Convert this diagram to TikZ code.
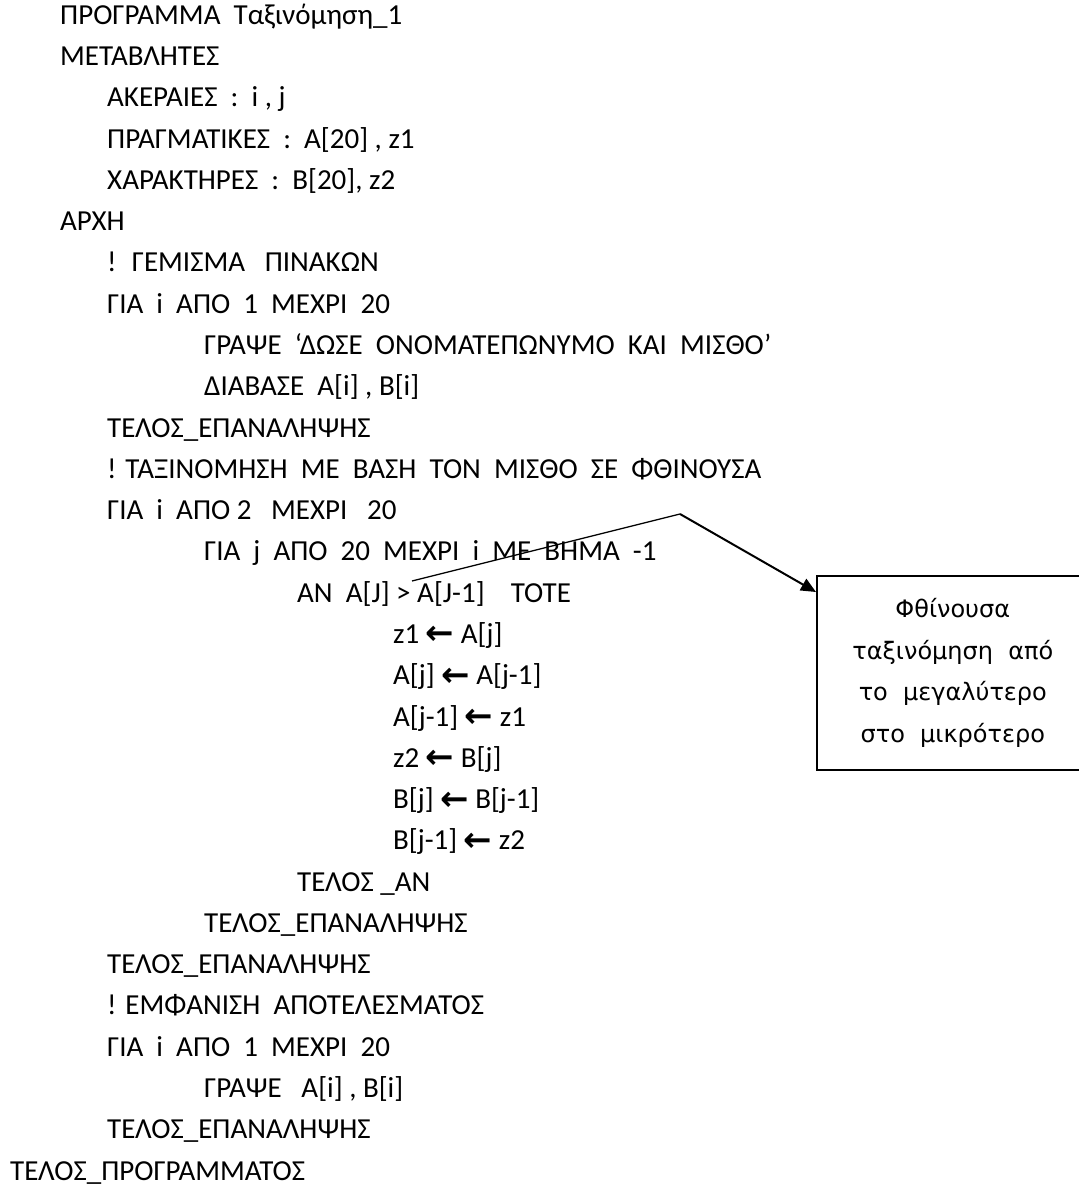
\documentclass[tikz,border=0pt]{standalone}
\usepackage{fontspec}
\usepackage{tikz}
\usetikzlibrary{arrows.meta}
\setmainfont{Carlito}
\newfontfamily\notefont{DejaVu Sans}
\newfontfamily\symfont{DejaVu Sans}
\newcommand{\assign}{\raisebox{-1.5pt}{\symfont\bfseries\fontsize{34}{36}\selectfont\char"2190}}

\begin{document}
\begin{tikzpicture}[x=1pt,y=-1pt,
        ln/.style={anchor=base west,inner sep=0pt,font=\fontsize{29}{34}\selectfont},
        notebox/.style={draw,line width=1.6pt,anchor=north west,minimum width=272pt,minimum height=194pt,
            align=center,font=\notefont\fontsize{24}{41.5}\selectfont}]
        \useasboundingbox (0,0) rectangle (1079,1187);
        % program text
        \node[ln] (prog) at (60,24.2) {ΠΡΟΓΡΑΜΜΑ~ Ταξινόμηση\_1};
        \node[ln] (vars) at (60,65.5) {ΜΕΤΑΒΛΗΤΕΣ};
        \node[ln] (ints) at (107,106.8) {ΑΚΕΡΑΙΕΣ~ :~ i , j};
        \node[ln] (reals) at (107,148) {ΠΡΑΓΜΑΤΙΚΕΣ~ :~ A[20] , z1};
        \node[ln] (chars) at (107,189.3) {ΧΑΡΑΚΤΗΡΕΣ~ :~ B[20], z2};
        \node[ln] (start) at (60,230.6) {ΑΡΧΗ};
        \node[ln] (cfill) at (107,271.9) {!~ ΓΕΜΙΣΜΑ~~ ΠΙΝΑΚΩΝ};
        \node[ln] (for1) at (107,313.2) {ΓΙΑ~ i~ ΑΠΟ~ 1~ ΜΕΧΡΙ~ 20};
        \node[ln] (ask) at (204,354.4) {ΓΡΑΨΕ~ ‘ΔΩΣΕ~ ΟΝΟΜΑΤΕΠΩΝΥΜΟ~ ΚΑΙ~ ΜΙΣΘΟ’};
        \node[ln] (read) at (204,395.7) {ΔΙΑΒΑΣΕ~ A[i] , B[i]};
        \node[ln] (end1) at (107,437) {ΤΕΛΟΣ\_ΕΠΑΝΑΛΗΨΗΣ};
        \node[ln] (csort) at (107,478.3) {! ΤΑΞΙΝΟΜΗΣΗ~ ΜΕ~ ΒΑΣΗ~ ΤΟΝ~ ΜΙΣΘΟ~ ΣΕ~ ΦΘΙΝΟΥΣΑ};
        \node[ln] (for2) at (107,519.6) {ΓΙΑ~ i~ ΑΠΟ 2~~ ΜΕΧΡΙ~~ 20};
        \node[ln] (for3) at (204,560.8) {ΓΙΑ~ j~ ΑΠΟ~ 20~ ΜΕΧΡΙ~ i~ ΜΕ~ ΒΗΜΑ~ -1};
        \node[ln] (cond) at (297,602.1) {ΑΝ~ A[J] > A[J-1]~~~ ΤΟΤΕ};
        \node[ln] (sw1) at (393,643.4) {z1 \assign\ A[j]};
        \node[ln] (sw2) at (393,684.7) {A[j] \assign\ A[j-1]};
        \node[ln] (sw3) at (393,726) {A[j-1] \assign\ z1};
        \node[ln] (sw4) at (393,767.2) {z2 \assign\ B[j]};
        \node[ln] (sw5) at (393,808.5) {B[j] \assign\ B[j-1]};
        \node[ln] (sw6) at (393,849.8) {B[j-1] \assign\ z2};
        \node[ln] (endif) at (297,891.1) {ΤΕΛΟΣ \_ΑΝ};
        \node[ln] (end3) at (204,932.4) {ΤΕΛΟΣ\_ΕΠΑΝΑΛΗΨΗΣ};
        \node[ln] (end2) at (107,973.6) {ΤΕΛΟΣ\_ΕΠΑΝΑΛΗΨΗΣ};
        \node[ln] (cshow) at (107,1014.9) {! ΕΜΦΑΝΙΣΗ~ ΑΠΟΤΕΛΕΣΜΑΤΟΣ};
        \node[ln] (for4) at (107,1056.2) {ΓΙΑ~ i~ ΑΠΟ~ 1~ ΜΕΧΡΙ~ 20};
        \node[ln] (write) at (204,1097.5) {ΓΡΑΨΕ~~ A[i] , B[i]};
        \node[ln] (end4) at (107,1138.8) {ΤΕΛΟΣ\_ΕΠΑΝΑΛΗΨΗΣ};
        \node[ln] (endprog) at (10,1180) {ΤΕΛΟΣ\_ΠΡΟΓΡΑΜΜΑΤΟΣ};
        % comment box
        \node[notebox] (note) at (816,575) {Φθίνουσα\\ταξινόμηση~ από\\το~ μεγαλύτερο\\στο~ μικρότερο};
        \coordinate (cfrom) at (412,581);
        \coordinate (cbend) at (680,514);
        \draw [line width=1.3pt] (cfrom) -- (cbend);
        \draw [line width=2pt,-{Triangle[length=15pt,width=13pt]}] (cbend) -- ([yshift=-17pt]note.north west);
\end{tikzpicture}
\end{document}
